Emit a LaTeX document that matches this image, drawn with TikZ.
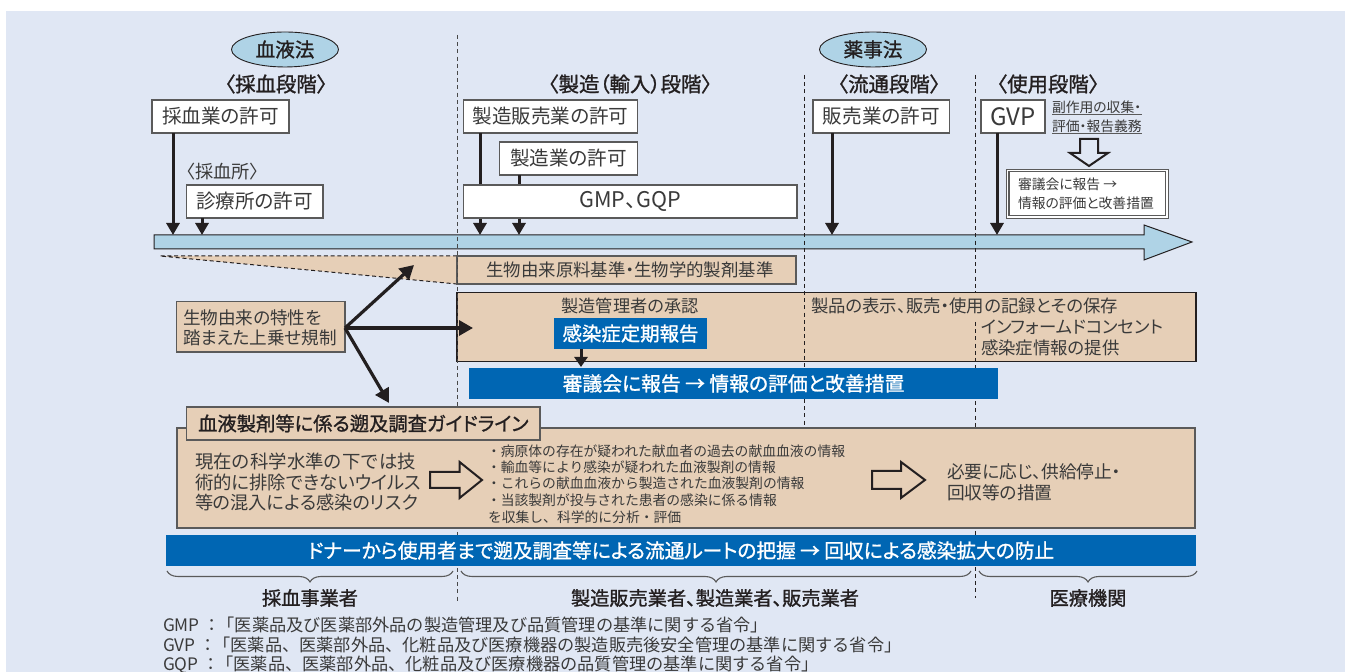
\documentclass[tikz,border=0pt]{standalone}
\usepackage{fontspec}
\setmainfont[RawFeature={+palt}]{Noto Sans CJK JP}
\newfontfamily\plainjp{Noto Sans CJK JP}
\newfontfamily\med[RawFeature={+palt},FakeBold=1.2]{Noto Sans CJK JP}
\usetikzlibrary{arrows.meta,decorations.pathreplacing,shapes.geometric}
\definecolor{panel}{HTML}{E0E7F4}
\definecolor{tan}{HTML}{E6CFB7}
\definecolor{bluebar}{HTML}{0066B3}
\definecolor{sky}{HTML}{AFD3E6}
\definecolor{ink}{HTML}{231F20}
\definecolor{txt}{HTML}{3A3A3A}
\definecolor{edge}{HTML}{5A5A5A}
\newcommand\fs[1]{\fontsize{#1}{#1}\selectfont}
% \rbox[style]{name}{x1}{y1}{x2}{y2}{text}
\newcommand\rbox[7][]{\node[rect,#1,minimum width={(#5-#3)*0.5pt},minimum height={(#6-#4)*0.5pt}] (#2) at ({(#3+#5)/2},{(#4+#6)/2}) {#7};}
\tikzset{
  rect/.style={inner sep=0pt,outer sep=0pt,text=txt},
  whitebox/.style={draw=edge,fill=white,line width=.55pt,font=\fs{9.8}},
  tanbox/.style={draw=edge,fill=tan,line width=.6pt},
  bluebox/.style={fill=bluebar,text=white},
  arr/.style={draw=ink,line width=1.5pt,-{Triangle[width=6.5pt,length=6pt]},shorten >=0pt},
  fatarr/.style={draw=ink,line width=1.6pt,-{Triangle[width=7.5pt,length=7pt]}},
  sep/.style={draw=edge!80!black,line width=.5pt,dash pattern=on 2pt off 1.6pt},
  lbl/.style={inner sep=0pt,outer sep=0pt,text=txt},
  lft/.style={lbl,anchor=west},
  head/.style={lbl,text=ink,font=\med\fs{10.2}},
  hollow/.style={draw=ink,line width=1pt,fill=none,miter limit=10},
  law/.style={ellipse,draw=ink,fill=sky,line width=.45pt,inner sep=0pt,minimum width=53.5pt,minimum height=17.5pt,text=ink,font=\med\fs{9.8}},
  bracey/.style={draw=edge,line width=.55pt,decorate,decoration={brace,mirror,amplitude=5.5pt,aspect=.5}},
}
\begin{document}
\begin{tikzpicture}[x=0.5pt,y=-0.5pt]
\useasboundingbox (0,0) rectangle (1356,672);
\fill[panel] (6,11) rectangle (1345,672);
% upper tan areas
\fill[tan] (160,256) -- (457,256) -- (457,284) -- cycle;
\draw[ink,line width=.5pt,dash pattern=on 2pt off 1.4pt] (457,256) -- (160,256) -- (457,284);
\rbox[tanbox,font=\fs{8.7}]{bio}{457}{256}{796}{284}{\hspace*{3.5pt}生物由来原料基準・生物学的製剤基準}
\rbox[tanbox,draw=ink]{mgmt}{457}{292.5}{1196}{361.5}{}
% timeline bar
\filldraw[fill=sky,draw=ink,line width=.5pt] (154,235) -- (1144,235) -- (1144,225) -- (1192,242) -- (1144,260) -- (1144,249) -- (154,249) -- cycle;
% separators
\coordinate (s1a) at (457,35);  \coordinate (s1b) at (457,602);
\coordinate (s2a) at (804,75);  \coordinate (s2b) at (804,425);
\coordinate (s3a) at (975,75);  \coordinate (s3b) at (975,292);
\coordinate (s3c) at (975,322); \coordinate (s3d) at (975,598);
\draw[sep] (s1a) -- (s1b);
\draw[sep,draw=ink] (s2a) -- (s2b);
\draw[sep,draw=ink] (s3a) -- (s3b);
\draw[sep,draw=ink] (s3c) -- (s3d);
% law ovals and stage headings
\node[law] (ketsu) at (285,49.5) {血液法};
\node[law] (yaku) at (873,49.5) {薬事法};
\node[head] (st1) at (276,84) {〈採血段階〉};
\node[head] (st2) at (630,84) {〈製造（輸入）段階〉};
\node[head] (st3) at (889,84) {〈流通段階〉};
\node[head] (st4) at (1048,84) {〈使用段階〉};
% arrow ends on the bar
\coordinate (a1) at (173,235); \coordinate (a2) at (202,235);
\coordinate (a3) at (480,235); \coordinate (a4) at (519,235);
\coordinate (a5) at (832,235); \coordinate (a6) at (997,235);
% licence boxes
\rbox[whitebox]{p1}{152}{100}{289}{133}{採血業の許可}
\rbox[whitebox]{p2}{463.5}{100}{637.5}{133}{製造販売業の許可}
\rbox[whitebox]{p3}{499.5}{142}{637.5}{175}{製造業の許可}
\rbox[whitebox]{p4}{186.5}{185}{323}{218}{診療所の許可}
\rbox[whitebox]{p6}{813}{100}{949.5}{133}{販売業の許可}
\rbox[whitebox,font=\fs{12}]{p7}{981}{100}{1045}{133}{GVP}
\draw[arr] (p1.south -| a1) -- (a1);
\draw[arr] (p4.south -| a2) -- (a2);
\draw[arr] (p2.south -| a3) -- (a3);
\draw[arr] (p3.south -| a4) -- (a4);
\draw[arr] (p6.south -| a5) -- (a5);
\draw[arr] (p7.south -| a6) -- (a6);
\rbox[whitebox,font=\fs{10.8}]{gmp}{463.5}{185}{797}{218}{GMP、GQP}
\node[lft,font=\fs{9.1}] (saiketsu) at (186,172) {〈採血所〉};
% GVP side note
\node[lft,font=\fs{6.9}] (n1) at (1052,107) {副作用の収集・};
\node[lft,font=\fs{6.9}] (n2) at (1052,126) {評価・報告義務};
\coordinate (u1a) at (1052,115); \coordinate (u1b) at (1142,115);
\coordinate (u2a) at (1052,133.5); \coordinate (u2b) at (1142,133.5);
\draw[edge,line width=.5pt] (u1a) -- (u1b);
\draw[edge,line width=.5pt] (u2a) -- (u2b);
\draw[hollow] (1080,139) -- (1098,139) -- (1098,153) -- (1108,153) -- (1089,166) -- (1070,153) -- (1080,153) -- cycle;
\rbox[draw=edge,fill=white,line width=.4pt]{rep}{1006.5}{169}{1168}{218}{}
\rbox[draw=edge,fill=white,line width=.6pt]{repin}{1009}{171.5}{1165.5}{215.5}{}
\node[lft,font=\fs{6.9}] (r1) at (1018,184) {審議会に報告 →};
\node[lft,font=\fs{6.9}] (r2) at (1018,203) {情報の評価と改善措置};
% regulation block
\rbox[tanbox]{special}{176.7}{301.7}{345}{352}{}
\node[lft,font=\fs{8.8}] (sp1) at (183,317.5) {生物由来の特性を};
\node[lft,font=\fs{8.8}] (sp2) at (183,338) {踏まえた上乗せ規制};
\coordinate (h1) at (414,265); \coordinate (h2) at (473,328); \coordinate (h3) at (389,403);
\draw[fatarr] (special.east |- h2) -- (h1);
\draw[fatarr] (special.east |- h2) -- (h2);
\draw[fatarr] (special.east |- h2) -- (h3);
\node[lbl,font=\fs{8.6}] (appr) at (630,306) {製造管理者の承認};
\rbox[bluebox,font=\med\fs{9.7}]{kansen}{554}{318}{707}{349}{感染症定期報告}
\rbox[bluebox,font=\med\fs{9.9}]{shingi}{469}{368}{998}{399}{審議会に報告 → 情報の評価と改善措置}
\coordinate (k1) at (581,367);
\draw[draw=ink,line width=1.5pt,-{Triangle[width=6.5pt,length=5pt]}] (kansen.south -| k1) -- (k1);
\node[lft,font=\fs{8.7}] (rec) at (811,306) {製品の表示、販売・使用の記録とその保存};
\node[lft,font=\fs{8.7}] (ic) at (981,327) {インフォームドコンセント};
\node[lft,font=\fs{8.7}] (inf) at (981,348) {感染症情報の提供};
% guideline block
\rbox[tanbox]{gl}{177}{428}{1195}{528}{}
\rbox[tanbox,font=\med\fs{9.65},text=ink]{gltitle}{186.7}{407}{540}{440}{血液製剤等に係る遡及調査ガイドライン}
\node[lft,font=\plainjp\fs{9.2}] (g1) at (195,462) {現在の科学水準の下では技};
\node[lft,font=\fs{9.2}] (g2) at (195,482.5) {術的に排除できないウイルス};
\node[lft,font=\fs{9.1}] (g3) at (195,503) {等の混入による感染のリスク};
\draw[hollow] (430,472) -- (459.6,472) -- (459.6,462) -- (482,480) -- (459.6,498) -- (459.6,488) -- (430,488) -- cycle;
\node[lft,font=\plainjp\fs{6.9}] (l1) at (487,451) {・病原体の存在が疑われた献血者の過去の献血血液の情報};
\node[lft,font=\plainjp\fs{6.9}] (l2) at (487,467) {・輸血等により感染が疑われた血液製剤の情報};
\node[lft,font=\plainjp\fs{6.9}] (l3) at (487,483.5) {・これらの献血血液から製造された血液製剤の情報};
\node[lft,font=\plainjp\fs{6.9}] (l4) at (487,500) {・当該製剤が投与された患者の感染に係る情報};
\node[lft,font=\plainjp\fs{6.9}] (l5) at (488,517) {を収集し、科学的に分析・評価};
\draw[hollow] (872,471) -- (901,471) -- (901,462) -- (925,480) -- (901,498) -- (901,489) -- (872,489) -- cycle;
\node[lft,font=\fs{8.85}] (o1) at (947,472) {必要に応じ、供給停止・};
\node[lft,font=\fs{8.85}] (o2) at (947,493) {回収等の措置};
\rbox[bluebox,font=\med\fs{9.85}]{trace}{166}{535}{1196}{566}{ドナーから使用者まで遡及調査等による流通ルートの把握 → 回収による感染拡大の防止}
% braces and actors
\coordinate (b1a) at (167,571); \coordinate (b1b) at (453,571);
\coordinate (b2a) at (461,571); \coordinate (b2b) at (971,571);
\coordinate (b3a) at (979,571); \coordinate (b3b) at (1197,571);
\draw[bracey] (b1a) -- (b1b);
\draw[bracey] (b2a) -- (b2b);
\draw[bracey] (b3a) -- (b3b);
\node[lbl,text=ink,font=\med\fs{9.6}] (ac1) at (310,598) {採血事業者};
\node[lbl,text=ink,font=\med\fs{9.6}] (ac2) at (715,598) {製造販売業者、製造業者、販売業者};
\node[lbl,text=ink,font=\med\fs{9.6}] (ac3) at (1088,598) {医療機関};
% footnotes
\node[lft,font=\plainjp\fs{8.6}] (f1) at (163,625) {GMP ：\hspace{-1.5pt}「医薬品及び医薬部外品の製造管理及び品質管理の基準に関する省令」};
\node[lft,font=\plainjp\fs{8.6}] (f2) at (163,645) {GVP ：\hspace{-1.5pt}「医薬品、医薬部外品、化粧品及び医療機器の製造販売後安全管理の基準に関する省令」};
\node[lft,font=\plainjp\fs{8.6}] (f3) at (163,665) {GQP ：\hspace{-1.5pt}「医薬品、医薬部外品、化粧品及び医療機器の品質管理の基準に関する省令」};
\end{tikzpicture}
\end{document}
